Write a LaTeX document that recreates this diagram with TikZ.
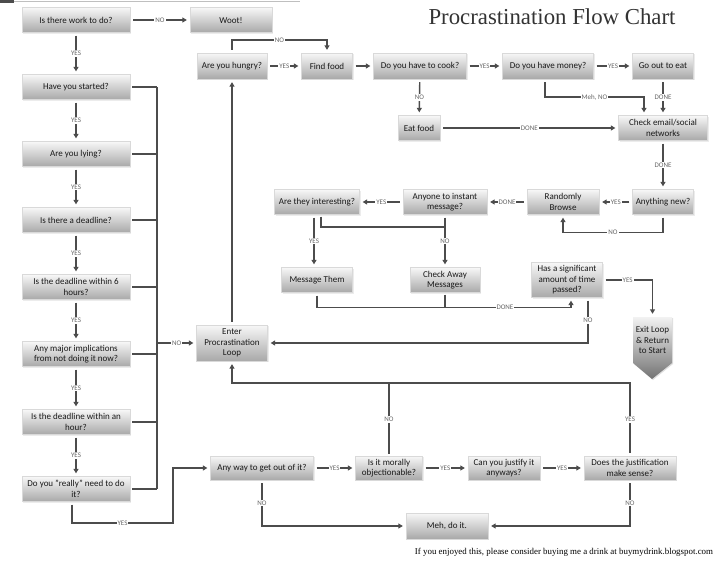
\documentclass[tikz,border=0pt]{standalone}
\usepackage{fontspec}
\setmainfont{Carlito}
\newfontfamily\seriffont{Liberation Serif}
\usetikzlibrary{arrows.meta,shadows}
\begin{document}
\begin{tikzpicture}[x=1pt,y=-1pt,
  box/.style={rectangle, top color=black!3, bottom color=black!34, draw=black!15, line width=0.3pt,
    align=center, font=\fontsize{9}{10.5}\selectfont, text=black!90, inner sep=1pt,
    minimum height=25pt, drop shadow={opacity=0.15, shadow xshift=1pt, shadow yshift=-1pt}},
  conn/.style={draw=black!70, line width=1.4pt, -{Triangle[length=4.5pt,width=5pt]}, shorten >=3pt, shorten <=3pt},
  plain/.style={draw=black!70, line width=1.4pt, shorten <=2pt},
  lbl/.style={fill=white, inner sep=1pt, font=\fontsize{7}{7}\selectfont, text=black!60}]
\useasboundingbox (0,0) rectangle (715,566);
% top-left artefact
\fill[black!70] (0,0) rectangle (14,3);
\draw[black!25, line width=0.8pt] (14,1) -- (300,1);

% title and footer
\node[font=\seriffont\fontsize{22.8}{26}\selectfont, text=black!80] (title) at (552,17) {Procrastination Flow Chart};
\node[font=\seriffont\fontsize{8.9}{10}\selectfont] (foot) at (564,552) {If you enjoyed this, please consider buying me a drink at buymydrink.blogspot.com};

% left column
\node[box, minimum width=108pt] (work) at (76,20) {Is there work to do?};
\node[box, minimum width=82pt] (woot) at (231,20) {Woot!};
\node[box, minimum width=108pt] (started) at (76,87) {Have you started?};
\node[box, minimum width=108pt] (lying) at (76,154) {Are you lying?};
\node[box, minimum width=108pt] (deadline) at (76,220) {Is there a deadline?};
\node[box, minimum width=108pt] (six) at (76,287) {Is the deadline within 6\\hours?};
\node[box, minimum width=108pt] (major) at (76,354) {Any major implications\\from not doing it now?};
\node[box, minimum width=108pt] (hour) at (76,422) {Is the deadline within an\\hour?};
\node[box, minimum width=108pt] (really) at (76,489) {Do you "really" need to do\\it?};

% loop
\node[box, minimum width=70pt, minimum height=26pt] (hungry) at (232,66) {Are you hungry?};
\node[box, minimum width=51pt, minimum height=26pt] (find) at (327,66) {Find food};
\node[box, minimum width=93pt, minimum height=26pt] (cook) at (420,66) {Do you have to cook?};
\node[box, minimum width=91pt, minimum height=26pt] (money) at (548,66) {Do you have money?};
\node[box, minimum width=61pt, minimum height=26pt] (goout) at (663,66) {Go out to eat};
\node[box, minimum width=42pt] (eat) at (419,128) {Eat food};
\node[box, minimum width=89pt] (check) at (663,128) {Check email/social\\networks};
\node[box, minimum width=61pt] (anything) at (663,202) {Anything new?};
\node[box, minimum width=72pt] (browse) at (563,202) {Randomly\\Browse};
\node[box, minimum width=84pt] (anyone) at (445,202) {Anyone to instant\\message?};
\node[box, minimum width=85pt] (interesting) at (317,202) {Are they interesting?};
\node[box, minimum width=71pt] (message) at (317,280) {Message Them};
\node[box, minimum width=70pt] (away) at (445,280) {Check Away\\Messages};
\node[box, minimum width=71pt, minimum height=35pt] (time) at (567,280) {Has a significant\\amount of time\\passed?};
\node[box, minimum width=71pt, minimum height=36pt] (enter) at (232,343) {Enter\\Procrastination\\Loop};

% exit chevron
\fill[black!25, opacity=0.5] (634,318) -- (673,318) -- (673,364) -- (653,380) -- (634,364) -- cycle;
\shade[top color=black!5, bottom color=black!55] (633,317) -- (672,317) -- (672,363) -- (652,379) -- (633,363) -- cycle;
\node[font=\fontsize{9}{10.5}\selectfont, align=center, text=black!90, minimum width=39pt, minimum height=46pt, inner sep=0pt] (exit) at (652.5,340) {Exit Loop\\\& Return\\to Start};

% bottom row
\node[box, minimum width=103pt, minimum height=24pt] (anyway) at (262,468) {Any way to get out of it?};
\node[box, minimum width=67pt, minimum height=24pt] (moral) at (389,468) {Is it morally\\objectionable?};
\node[box, minimum width=72pt, minimum height=24pt] (justify) at (504,468) {Can you justify it\\anyways?};
\node[box, minimum width=92pt, minimum height=24pt] (sense) at (630,468) {Does the justification\\make sense?};
\node[box, minimum width=82pt, minimum height=26pt] (meh) at (447,526) {Meh, do it.};

% coordinates
\coordinate (busT) at (157,87);
\coordinate (busB) at (157,489);
\coordinate (tj) at (445,227);
\coordinate (lp) at (232,383);
\coordinate (lc) at (173,523);

% left column connectors
\draw[conn] (work) -- node[lbl]{NO} (woot);
\draw[conn] (work) -- node[lbl]{YES} (started);
\draw[conn] (started) -- node[lbl]{YES} (lying);
\draw[conn] (lying) -- node[lbl]{YES} (deadline);
\draw[conn] (deadline) -- node[lbl]{YES} (six);
\draw[conn] (six) -- node[lbl]{YES} (major);
\draw[conn] (major) -- node[lbl]{YES} (hour);
\draw[conn] (hour) -- node[lbl]{YES} (really);
\foreach \n in {started,lying,deadline,six,major,hour,really}
  \draw[plain] (\n.east) -- (\n.east -| busT);
\draw[plain, shorten <=0pt] (busT) -- (busB);
\draw[conn, shorten <=0pt] (enter.west -| busT) -- node[lbl]{NO} (enter.west);
\draw[conn] ([xshift=-4pt]really.south) |- node[lbl, pos=0.75]{YES} (lc) |- (anyway.west);

% procrastination loop
\draw[conn] (enter) -- (hungry);
\draw[conn] (hungry.north) -- ++(0,-13) -| node[lbl, pos=0.25]{NO} (find.north);
\draw[conn] (hungry) -- node[lbl]{YES} (find);
\draw[conn] (find) -- (cook);
\draw[conn] (cook) -- node[lbl]{YES} (money);
\draw[conn] (money) -- node[lbl]{YES} (goout);
\draw[conn] (cook) -- node[lbl]{NO} (eat);
\draw[conn] (eat) -- node[lbl]{DONE} (check);
\draw[conn] ([xshift=-3pt]money.south) -- ++(0,18) -| node[lbl, pos=0.25]{Meh, NO} ([xshift=-19pt]check.north);
\draw[conn] (goout) -- node[lbl]{DONE} (check);
\draw[conn] (check) -- node[lbl]{DONE} (anything);
\draw[conn] (anything) -- node[lbl]{YES} (browse);
\draw[conn] (browse) -- node[lbl]{DONE} (anyone);
\draw[conn] (anyone) -- node[lbl]{YES} (interesting);
\draw[conn] (anything.south) -- ++(0,18) -| node[lbl, pos=0.25]{NO} (browse.south);
\draw[conn] (anyone) -- node[lbl]{NO} (away);
\draw[plain] ([xshift=4pt]interesting.south) |- (tj);
\draw[conn] ([xshift=-3pt]interesting.south) -- node[lbl]{YES} ([xshift=-3pt]message.north);
\draw[conn] (message.south) -- ++(0,15) -| node[lbl, pos=0.37]{DONE} ([xshift=4pt]time.south);
\draw[plain] (away.south) -- ++(0,15);
\draw[conn] (time.east) -| node[lbl, pos=0.25]{YES} (exit.north);
\draw[conn] ([xshift=21pt]time.south) |- node[lbl, pos=0.25]{NO} (enter.east);

% bottom loop
\draw[conn] (sense.north) |- node[lbl, pos=0.25]{YES} (lp) -- (enter.south);
\draw[plain] (moral.north) -- node[lbl]{NO} (moral.north |- lp);
\draw[conn] (anyway) -- node[lbl]{YES} (moral);
\draw[conn] (moral) -- node[lbl]{YES} (justify);
\draw[conn] (justify) -- node[lbl]{YES} (sense);
\draw[conn] (anyway.south) |- node[lbl, pos=0.25]{NO} (meh.west);
\draw[conn] (sense.south) |- node[lbl, pos=0.25]{NO} (meh.east);
\end{tikzpicture}
\end{document}
